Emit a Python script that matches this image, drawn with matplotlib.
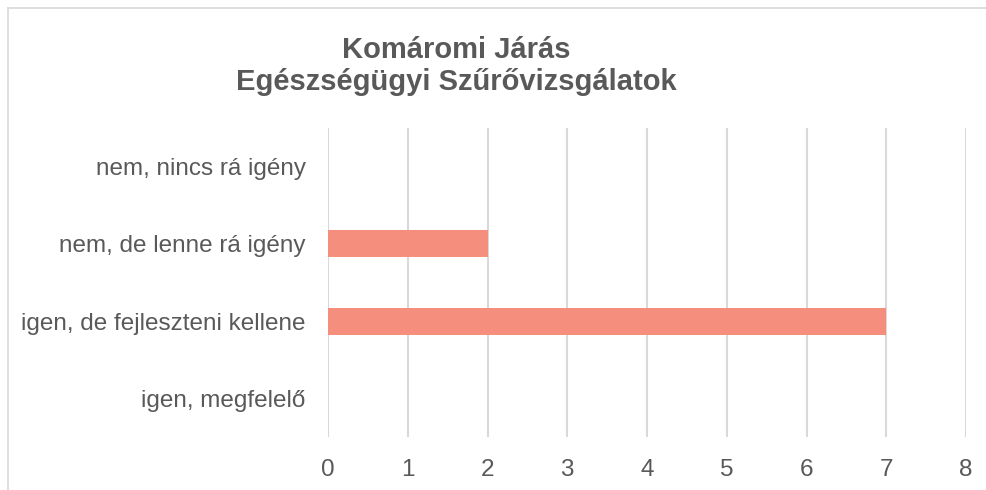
import matplotlib.pyplot as plt
from matplotlib.lines import Line2D

# data, bottom to top
categories = ["igen, megfelelő", "igen, de fejleszteni kellene",
              "nem, de lenne rá igény", "nem, nincs rá igény"]
values = [0, 7, 2, 0]
x_ticks = [0, 1, 2, 3, 4, 5, 6, 7, 8]

plt.rcParams['font.family'] = ['Liberation Sans', 'DejaVu Sans']
text_color = "#595959"
grid_color = "#D9D9D9"

fig = plt.figure(figsize=(9.87, 4.9), dpi=100)
ax = fig.add_axes([328 / 987, 53 / 490, 638 / 987, 309 / 490])

ax.barh(range(len(categories)), values, height=0.35, color="#F58E7D", zorder=3)
ax.set_xlim(0, 8)
ax.set_ylim(-0.5, len(categories) - 0.5)
ax.set_xticks(x_ticks)
ax.set_yticks(range(len(categories)))
ax.set_yticklabels(categories)
ax.grid(axis="x", color=grid_color, linewidth=1.5, zorder=0)
for s in ax.spines.values():
    s.set_visible(False)
ax.tick_params(axis="x", length=0, pad=16, labelsize=17.5, labelcolor=text_color)
ax.tick_params(axis="y", length=0, pad=16, labelsize=17.5, labelcolor=text_color)

fig.text(456 / 987, 1 - 66 / 490, "Komáromi Járás\nEgészségügyi Szűrővizsgálatok",
         ha="center", va="center", fontsize=21, fontweight="bold",
         color=text_color, linespacing=1.18)

# chart border (only top and left visible in the crop)
fig.add_artist(Line2D([8 / 987, 8 / 987], [0, 1 - 8 / 490], transform=fig.transFigure,
                      color=grid_color, linewidth=1.2))
fig.add_artist(Line2D([8 / 987, 1], [1 - 8 / 490, 1 - 8 / 490], transform=fig.transFigure,
                      color=grid_color, linewidth=1.2))

fig.savefig("out.png", dpi=100)
